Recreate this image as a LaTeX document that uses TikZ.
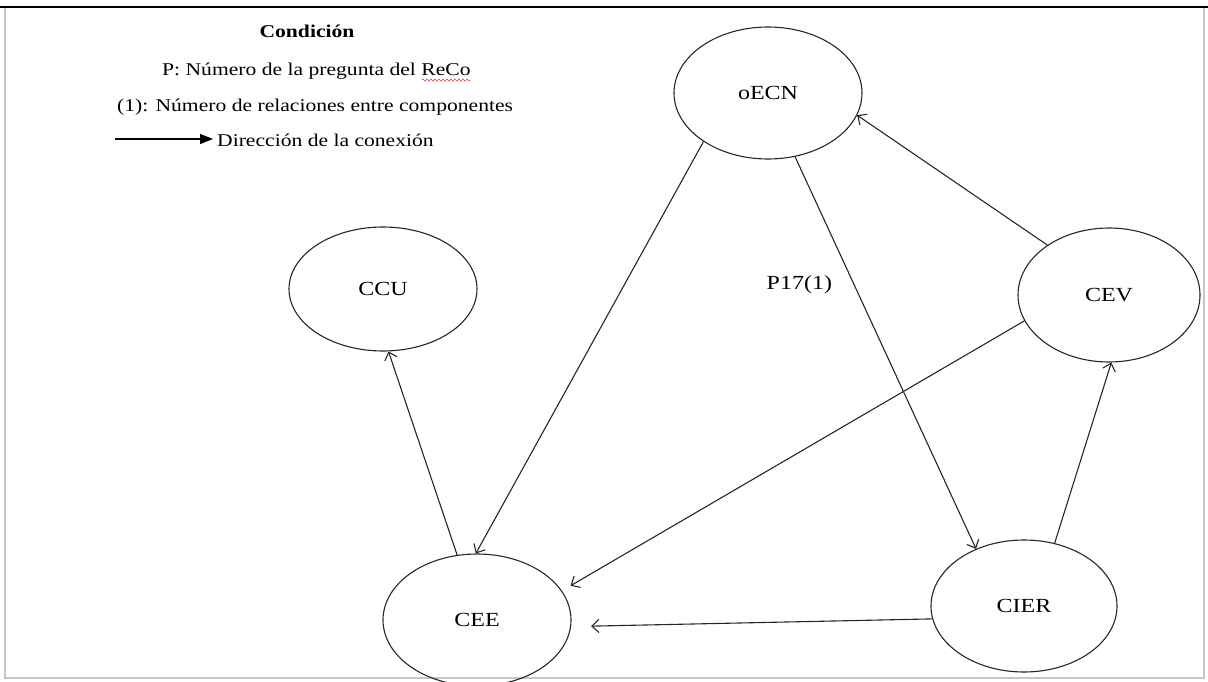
\documentclass[tikz,border=0pt]{standalone}
\usepackage{fontspec}
\setmainfont{Liberation Serif}[FakeStretch=1.2]
\usetikzlibrary{shapes.geometric, arrows.meta, decorations.pathmorphing}

\begin{document}
\begin{tikzpicture}[x=1pt, y=-1pt,
  comp/.style={draw=black!85, ellipse, line width=1.1pt, minimum width=188pt, minimum height=132pt, inner sep=0pt, font=\fontsize{20}{24}\selectfont},
  link/.style={draw=black!85, line width=1.1pt, -{Straight Barb[length=7pt, width=13pt, line width=1.1pt]}},
  legtext/.style={inner sep=0pt, font=\fontsize{18}{22}\selectfont}]
  \useasboundingbox (0,0) rectangle (1208,682);

  % Frame
  \draw[gray!45, line width=2pt] (5,7) rectangle (1204,678);
  \draw[line width=1.6pt] (0,7) -- (1208,7);

  % Legend
  \node[legtext, font=\bfseries\fontsize{18}{22}\selectfont, anchor=base] (cond) at (307,38) {Condición};
  \node[legtext, anchor=base west] (pq) at (162,76) {P: Número de la pregunta del ReCo};
  \draw[red, decorate, decoration={snake, amplitude=1.2pt, segment length=4pt}] ([xshift=-49pt, yshift=-4pt]pq.base east) -- ([yshift=-4pt]pq.base east);
  \node[legtext, anchor=base west] (rel) at (117,112) {(1): Número de relaciones entre componentes};
  \coordinate (keyA) at (115,139);
  \coordinate (keyB) at (213,139);
  \draw[line width=1.3pt, -{Triangle[length=13pt, width=10pt]}] (keyA) -- (keyB);
  \node[legtext, anchor=base west] (dir) at (217,147) {Dirección de la conexión};

  % Components
  \node[comp] (oecn) at (768,93) {oECN};
  \node[comp, minimum width=182pt, minimum height=134pt] (cev) at (1109,295) {CEV};
  \node[comp, minimum height=124pt] (ccu) at (383,289) {CCU};
  \node[comp] (cee) at (477,620) {CEE};
  \node[comp, minimum width=186pt] (cier) at (1024,606) {CIER};

  % Connections
  \draw[link] (cee.107) -- (ccu.275);
  \draw[link] (oecn.217) -- (cee.91);
  \draw[link] (oecn.293) -- node[pos=0.325, left=18pt, font=\fontsize{20}{24}\selectfont] (p17) {P17(1)} (cier.130);
  \draw[link] (cev.141) -- (oecn.346);
  \draw[link, shorten >=10pt] (cev.197) -- (cee.19);
  \draw[link] (cier.64) -- (cev.272);
  \draw[link, shorten >=20pt] (cier.188) -- (cee.356);
\end{tikzpicture}
\end{document}
